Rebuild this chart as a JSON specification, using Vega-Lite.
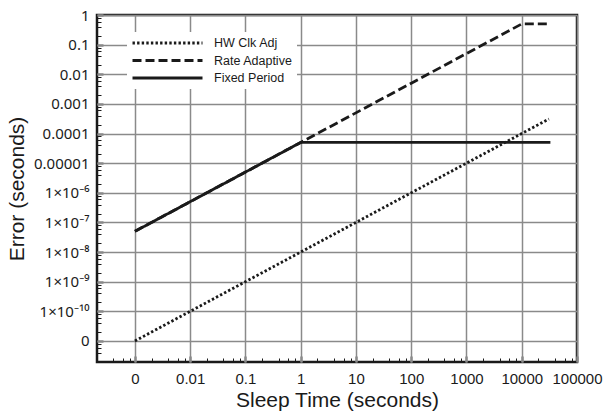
{
  "$schema": "https://vega.github.io/schema/vega-lite/v6.json",
  "width": 480,
  "height": 347,
  "autosize": "none",
  "padding": {"left": 97, "top": 15, "right": 28, "bottom": 49},
  "background": "white",
  "config": {
    "view": {"stroke": "#1a1a1a", "strokeWidth": 2.5},
    "font": "Liberation Sans"
  },
  "data": {
    "values": [
      {"series": "HW Clk Adj", "time": 0.001, "error": 1e-11},
      {"series": "HW Clk Adj", "time": 31000, "error": 3.1e-4},
      {"series": "Rate Adaptive", "time": 0.001, "error": 5e-8},
      {"series": "Rate Adaptive", "time": 1, "error": 5e-5},
      {"series": "Rate Adaptive", "time": 10000, "error": 0.5},
      {"series": "Rate Adaptive", "time": 33000, "error": 0.5},
      {"series": "Fixed Period", "time": 0.001, "error": 5e-8},
      {"series": "Fixed Period", "time": 1, "error": 5e-5},
      {"series": "Fixed Period", "time": 33000, "error": 5e-5}
    ]
  },
  "mark": {"type": "line", "color": "#1a1a1a", "strokeWidth": 2.8, "strokeCap": "butt"},
  "encoding": {
    "x": {
      "field": "time",
      "type": "quantitative",
      "scale": {"type": "log", "domain": [2.06e-4, 100000], "nice": false},
      "axis": {
        "title": "Sleep Time (seconds)",
        "titleFont": "Liberation Sans",
        "titleFontSize": 21,
        "titleFontWeight": "normal",
        "titleColor": "#1a1a1a",
        "titlePadding": 1,
        "domain": false,
        "values": [0.001, 0.01, 0.1, 1, 10, 100, 1000, 10000, 100000, 4e-4, 6e-4, 8e-4, 2e-3, 4e-3, 6e-3, 8e-3, 2e-2, 4e-2, 6e-2, 8e-2, 0.2, 0.4, 0.6, 0.8, 2, 4, 6, 8, 20, 40, 60, 80, 200, 400, 600, 800, 2000, 4000, 6000, 8000, 20000, 40000, 60000, 80000],
        "labelExpr": "abs(log(datum.value)/LN10 - round(log(datum.value)/LN10)) < 0.001 ? ['0','0.01','0.1','1','10','100','1000','10000','100000'][round(log(datum.value)/LN10)+3] : ''",
        "labelFont": "Liberation Sans",
        "labelFontSize": 15,
        "labelColor": "#1a1a1a",
        "labelPadding": 15,
        "labelFlush": false,
        "labelOverlap": false,
        "gridColor": "#8a8a8a",
        "gridWidth": 1.5,
        "gridOpacity": {"condition": {"test": "abs(log(datum.value)/LN10 - round(log(datum.value)/LN10)) < 0.001", "value": 1}, "value": 0},
        "tickSize": {"condition": {"test": "abs(log(datum.value)/LN10 - round(log(datum.value)/LN10)) < 0.001", "value": -6}, "value": -4},
        "tickColor": {"condition": {"test": "abs(log(datum.value)/LN10 - round(log(datum.value)/LN10)) < 0.001", "value": "#8a8a8a"}, "value": "#1a1a1a"},
        "tickWidth": {"condition": {"test": "abs(log(datum.value)/LN10 - round(log(datum.value)/LN10)) < 0.001", "value": 2.5}, "value": 1}
      }
    },
    "y": {
      "field": "error",
      "type": "quantitative",
      "scale": {"type": "log", "domain": [1.95e-12, 1], "nice": false},
      "axis": {
        "title": "Error (seconds)",
        "titleFont": "Liberation Sans",
        "titleFontSize": 21,
        "titleFontWeight": "normal",
        "titleColor": "#1a1a1a",
        "titlePadding": 6,
        "domain": false,
        "values": [1, 0.1, 0.01, 0.001, 1e-4, 1e-5, 1e-6, 1e-7, 1e-8, 1e-9, 1e-10, 1e-11, 0.2, 0.4, 0.6, 0.8, 0.02, 0.04, 0.06, 0.08, 0.002, 0.004, 0.006, 0.008, 2e-4, 4e-4, 6e-4, 8e-4, 2e-5, 4e-5, 6e-5, 8e-5, 2e-6, 4e-6, 6e-6, 8e-6, 2e-7, 4e-7, 6e-7, 8e-7, 2e-8, 4e-8, 6e-8, 8e-8, 2e-9, 4e-9, 6e-9, 8e-9, 2e-10, 4e-10, 6e-10, 8e-10, 2e-11, 4e-11, 6e-11, 8e-11, 2e-12, 4e-12, 6e-12, 8e-12],
        "labelExpr": "abs(log(datum.value)/LN10 - round(log(datum.value)/LN10)) < 0.001 ? ['1','0.1','0.01','0.001','0.0001','0.00001','1×10⁻⁶','1×10⁻⁷','1×10⁻⁸','1×10⁻⁹','1×10⁻¹⁰','0'][-round(log(datum.value)/LN10)] : ''",
        "labelFont": "Noto Sans",
        "labelFontSize": 15,
        "labelColor": "#1a1a1a",
        "labelPadding": 14,
        "labelFlush": false,
        "labelOverlap": false,
        "gridColor": "#8a8a8a",
        "gridWidth": 1.5,
        "gridOpacity": {"condition": {"test": "abs(log(datum.value)/LN10 - round(log(datum.value)/LN10)) < 0.001", "value": 1}, "value": 0},
        "tickSize": {"condition": {"test": "abs(log(datum.value)/LN10 - round(log(datum.value)/LN10)) < 0.001", "value": -6}, "value": -4},
        "tickColor": {"condition": {"test": "abs(log(datum.value)/LN10 - round(log(datum.value)/LN10)) < 0.001", "value": "#8a8a8a"}, "value": "#1a1a1a"},
        "tickWidth": {"condition": {"test": "abs(log(datum.value)/LN10 - round(log(datum.value)/LN10)) < 0.001", "value": 2.5}, "value": 1}
      }
    },
    "strokeDash": {
      "field": "series",
      "type": "nominal",
      "scale": {"domain": ["HW Clk Adj", "Rate Adaptive", "Fixed Period"], "range": [[2.4, 2.2], [9, 4], [1, 0]]},
      "legend": {
        "orient": "none",
        "legendX": 30,
        "legendY": 17,
        "title": null,
        "symbolType": "stroke",
        "symbolSize": 4900,
        "symbolStrokeWidth": 2.8,
        "symbolStrokeColor": "#1a1a1a",
        "clipHeight": 14,
        "rowPadding": 3.5,
        "labelFont": "Liberation Sans",
        "labelFontSize": 12.5,
        "labelColor": "#1a1a1a",
        "labelOffset": 10,
        "fillColor": "white",
        "padding": 4
      }
    }
  }
}
